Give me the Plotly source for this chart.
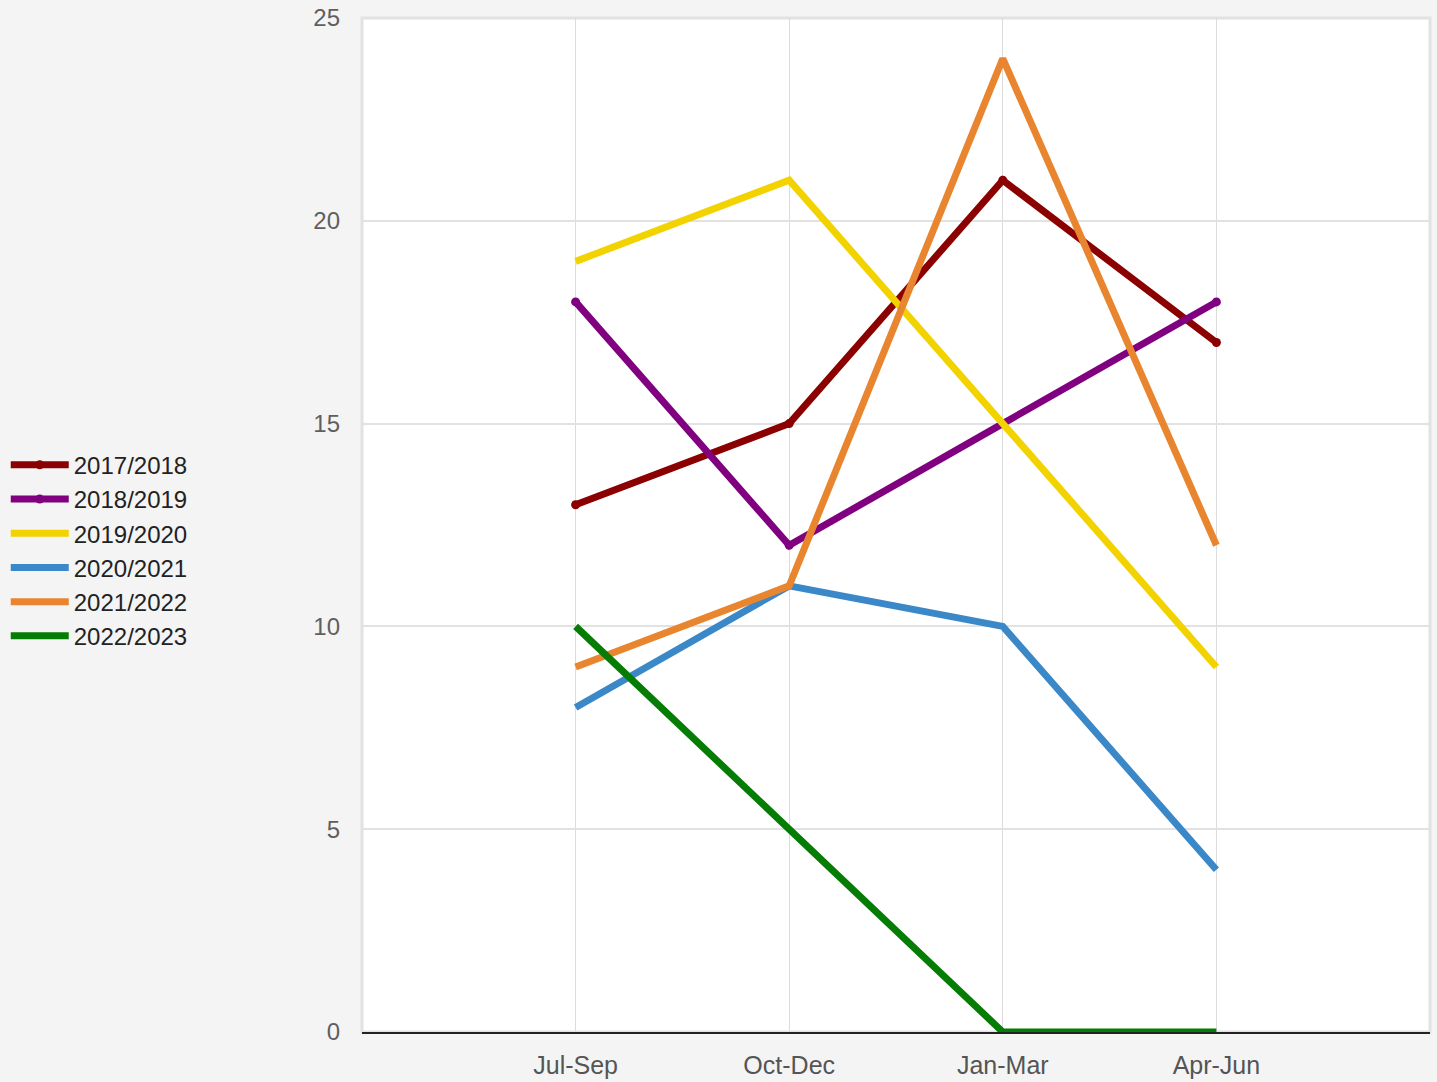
import plotly.graph_objects as go

# Quarterly counts per financial year
quarters = ["Jul-Sep", "Oct-Dec", "Jan-Mar", "Apr-Jun"]
years = ["2017/2018", "2018/2019", "2019/2020", "2020/2021", "2021/2022", "2022/2023"]
fy_2017_2018 = [13, 15, 21, 17]
fy_2018_2019 = [18, 12, 15, 18]
fy_2019_2020 = [19, 21, 15, 9]
fy_2020_2021 = [8, 11, 10, 4]
fy_2021_2022 = [9, 11, 24, 12]
fy_2022_2023 = [10, 5, 0, 0]
y_ticks = [0, 5, 10, 15, 20, 25]

series = [fy_2017_2018, fy_2018_2019, fy_2019_2020, fy_2020_2021, fy_2021_2022, fy_2022_2023]
colors = ["#8b0000", "#800080", "#f2d300", "#3b88c8", "#e8852e", "#057d05"]
with_markers = [True, True, False, False, False, False]

fig = go.Figure()
for name, vals, col, mk in zip(years, series, colors, with_markers):
    fig.add_trace(go.Scatter(
        x=quarters, y=vals, name=name,
        mode="lines+markers" if mk else "lines",
        line=dict(color=col, width=7),
        marker=dict(size=9, color=col),
    ))

# light border around the plotting area
fig.add_shape(type="rect", xref="paper", yref="paper", x0=0, y0=0, x1=1, y1=1,
              line=dict(color="#e2e2e2", width=3), layer="below")

fig.update_layout(
    width=1437, height=1082,
    margin=dict(l=362, r=7, t=18, b=50, autoexpand=False),
    paper_bgcolor="#f4f4f4",
    plot_bgcolor="#ffffff",
    font=dict(family="Liberation Sans, Arial, sans-serif", size=22, color="#555555"),
    showlegend=True,
    legend=dict(
        xref="container", yref="container",
        x=0.004, xanchor="left", y=0.491, yanchor="middle",
        font=dict(size=24, color="#222222"),
        bgcolor="rgba(0,0,0,0)",
        tracegroupgap=0,
        itemwidth=58,
    ),
    xaxis=dict(
        type="category",
        range=[-1, 4],
        automargin=False,
        showgrid=True, gridcolor="#dcdcdc", gridwidth=1,
        showline=True, linecolor="#222222", linewidth=2,
        ticks="", ticklabelstandoff=10,
        tickfont=dict(size=25, color="#555555"),
        zeroline=False,
    ),
    yaxis=dict(
        range=[0, 25],
        tickvals=y_ticks,
        automargin=False,
        showgrid=True, gridcolor="#e2e2e2", gridwidth=2,
        showline=False, zeroline=False,
        ticks="", ticklabelstandoff=21,
        tickfont=dict(size=24, color="#5f5f5f"),
    ),
)

fig.write_html("out.html")
